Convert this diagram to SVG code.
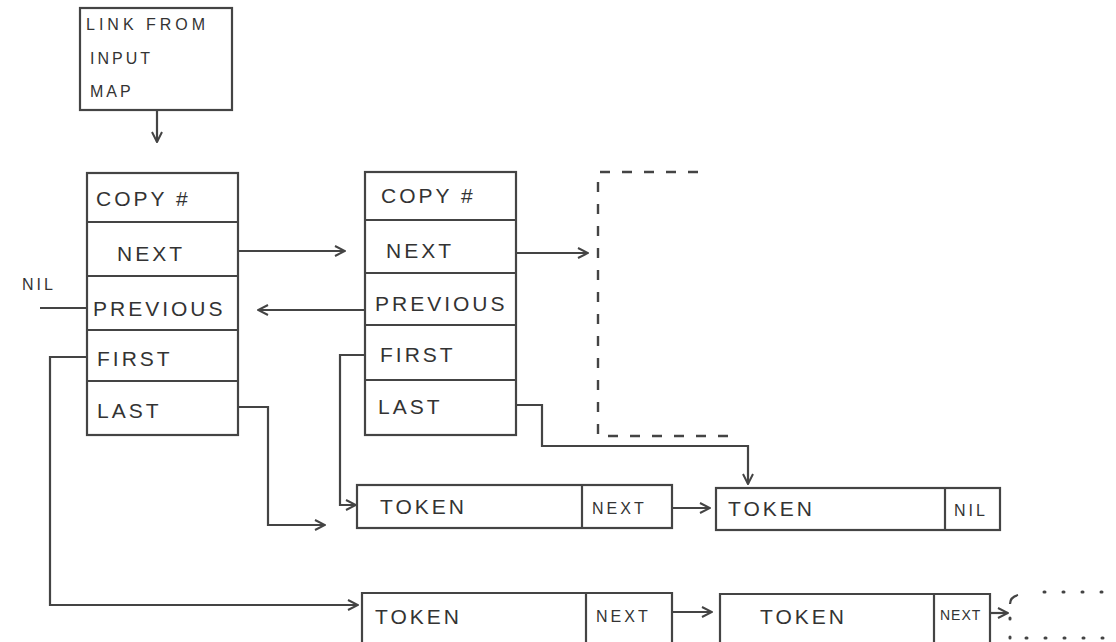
<svg xmlns="http://www.w3.org/2000/svg" width="1116" height="642" viewBox="0 0 1116 642">
<defs>
<style>
.box{fill:none;stroke:#444;stroke-width:2.2}
.ln{fill:none;stroke:#444;stroke-width:2.2}
.dash{fill:none;stroke:#444;stroke-width:2.4;stroke-dasharray:10 12}
.dot{fill:none;stroke:#444;stroke-width:3;stroke-linecap:round;stroke-dasharray:1 18}
.t{font-family:"Liberation Sans",Arial,sans-serif;font-size:21px;fill:#333;letter-spacing:3px}
.ts{font-family:"Liberation Sans",Arial,sans-serif;font-size:16px;fill:#333;letter-spacing:3px}
</style>
<marker id="ah" viewBox="0 0 12 12" refX="11" refY="6" markerWidth="12" markerHeight="12" markerUnits="userSpaceOnUse" orient="auto">
<path d="M1,1 L11,6 L1,11" fill="none" stroke="#444" stroke-width="2"/>
</marker>
</defs>
<rect width="1116" height="642" fill="#fff"/>

<g id="connectors">
<path class="ln" d="M157,110 V142" marker-end="url(#ah)"/>
<path class="ln" d="M239,251 H345" marker-end="url(#ah)"/>
<path class="ln" d="M365,310 H258" marker-end="url(#ah)"/>
<path class="ln" d="M87,308 H40"/>
<path class="ln" d="M516,253 H588" marker-end="url(#ah)"/>
<path class="ln" d="M87,357 H50 V605 H358" marker-end="url(#ah)"/>
<path class="ln" d="M238,407 H268 V525 H325" marker-end="url(#ah)"/>
<path class="ln" d="M365,355 H340 V505 H356" marker-end="url(#ah)"/>
<path class="ln" d="M516,405 H542 V446 H748 V484" marker-end="url(#ah)"/>
<path class="ln" d="M672,508 H710" marker-end="url(#ah)"/>
<path class="ln" d="M673,612 H712" marker-end="url(#ah)"/>
<path class="ln" d="M990,613 H1008" marker-end="url(#ah)"/>
</g>

<g id="input-map">
<rect class="box" x="80" y="8" width="152" height="102"/>
<text class="ts" x="86" y="30" style="letter-spacing:4px">LINK FROM</text>
<text class="ts" x="90" y="64">INPUT</text>
<text class="ts" x="90" y="97">MAP</text>
</g>

<g id="copy1">
<rect class="box" x="87" y="173" width="151" height="262"/>
<path class="ln" d="M87,222 H238 M87,276 H238 M87,330 H238 M87,381 H238"/>
<text class="t" x="96" y="206">COPY  #</text>
<text class="t" x="117" y="261">NEXT</text>
<text class="t" x="93" y="316">PREVIOUS</text>
<text class="t" x="97" y="366">FIRST</text>
<text class="t" x="97" y="418">LAST</text>
</g>

<g id="nil-label">
<text class="ts" x="22" y="290">NIL</text>
</g>

<g id="copy2">
<rect class="box" x="365" y="172" width="151" height="263"/>
<path class="ln" d="M365,220 H516 M365,273 H516 M365,325 H516 M365,380 H516"/>
<text class="t" x="381" y="203">COPY #</text>
<text class="t" x="386" y="258">NEXT</text>
<text class="t" x="375" y="311">PREVIOUS</text>
<text class="t" x="380" y="362">FIRST</text>
<text class="t" x="378" y="414">LAST</text>
</g>

<g id="copy3">
<path class="dash" d="M698,172 H598 V436 H728"/>
</g>

<g id="token1">
<rect class="box" x="357" y="485" width="315" height="43"/>
<path class="ln" d="M582,485 V528"/>
<text class="t" x="380" y="514">TOKEN</text>
<text class="ts" x="592" y="514">NEXT</text>
</g>

<g id="token2">
<rect class="box" x="716" y="488" width="284" height="42"/>
<path class="ln" d="M945,488 V530"/>
<text class="t" x="728" y="516">TOKEN</text>
<text class="ts" x="954" y="516">NIL</text>
</g>

<g id="token3">
<path class="box" d="M362,642 V593 H672 V642 M586,593 V642"/>
<text class="t" x="375" y="624">TOKEN</text>
<text class="ts" x="596" y="622">NEXT</text>
</g>

<g id="token4">
<path class="box" d="M720,642 V594 H990 V642 M934,594 V642"/>
<text class="t" x="760" y="624">TOKEN</text>
<text class="ts" x="940" y="620" style="font-size:14px;letter-spacing:1px">NEXT</text>
</g>

<g id="token5">
<path class="ln" d="M1018,595 Q1010,597 1010,604"/>
<path class="dot" d="M1010,618 V640"/>
<path class="dot" d="M1044,592 H1116"/>
<path class="dot" d="M1026,638 H1116"/>
</g>
</svg>
